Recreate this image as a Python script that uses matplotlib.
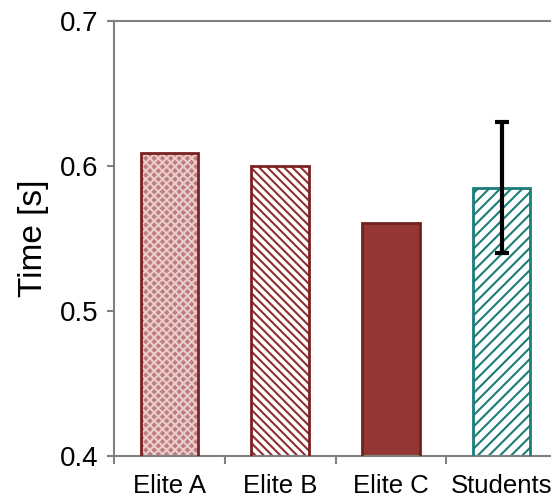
import numpy as np
import matplotlib
matplotlib.use('Agg')
import matplotlib.pyplot as plt

categories = ['Elite A', 'Elite B', 'Elite C', 'Students']
times = [0.609, 0.600, 0.561, 0.585]
errors = [0, 0, 0, 0.045]

face_colors = ['#c07c7c', 'white', '#943634', 'white']
hatch_colors = ['#e9cccc', '#8e2f2f', '#943634', '#1c7c78']
hatches = ['xxxx', '\\\\\\\\', '', '///']
edge_colors = ['#7a2222', '#7a2222', '#6e2222', '#1c7c78']

plt.rcParams['font.family'] = ['Liberation Sans', 'DejaVu Sans']
plt.rcParams['hatch.linewidth'] = 1.5

fig = plt.figure(figsize=(5.51, 4.99), dpi=100)
ax = fig.add_axes([114 / 551, 43 / 499, (557 - 114) / 551, (456 - 21) / 499])

x = np.arange(len(categories))
# hatch layer (hatch colour comes from edgecolor), then the outline on top
ax.bar(x, times, width=0.52, color=face_colors, edgecolor=hatch_colors,
       hatch=hatches, linewidth=0, zorder=2)
ax.bar(x, times, width=0.52, color='none', edgecolor=edge_colors,
       linewidth=2, zorder=3)
ax.errorbar(x[3], times[3], yerr=errors[3], fmt='none', ecolor='black',
            elinewidth=3, capsize=5, capthick=3, zorder=4)

ax.set_ylim(0.4, 0.7)
ax.set_yticks([0.4, 0.5, 0.6, 0.7])
ax.set_yticklabels(['0.4', '0.5', '0.6', '0.7'])
ax.set_xlim(-0.5, len(categories) - 0.5)
ax.set_xticks(x)
ax.set_xticklabels(categories, fontsize=18.5)
ax.tick_params(axis='x', which='major', length=0, pad=13)
ax.set_xticks(np.arange(len(categories)) - 0.5, minor=True)
ax.tick_params(axis='x', which='minor', length=6, width=1.5, color='#808080')
ax.tick_params(axis='y', labelsize=20, length=5, width=1.5, color='#808080', pad=6)
ax.set_ylabel('Time [s]', fontsize=24, labelpad=8)

for s in ax.spines.values():
    s.set_color('#808080')
    s.set_linewidth(1.5)

fig.savefig('out.png', dpi=100)
